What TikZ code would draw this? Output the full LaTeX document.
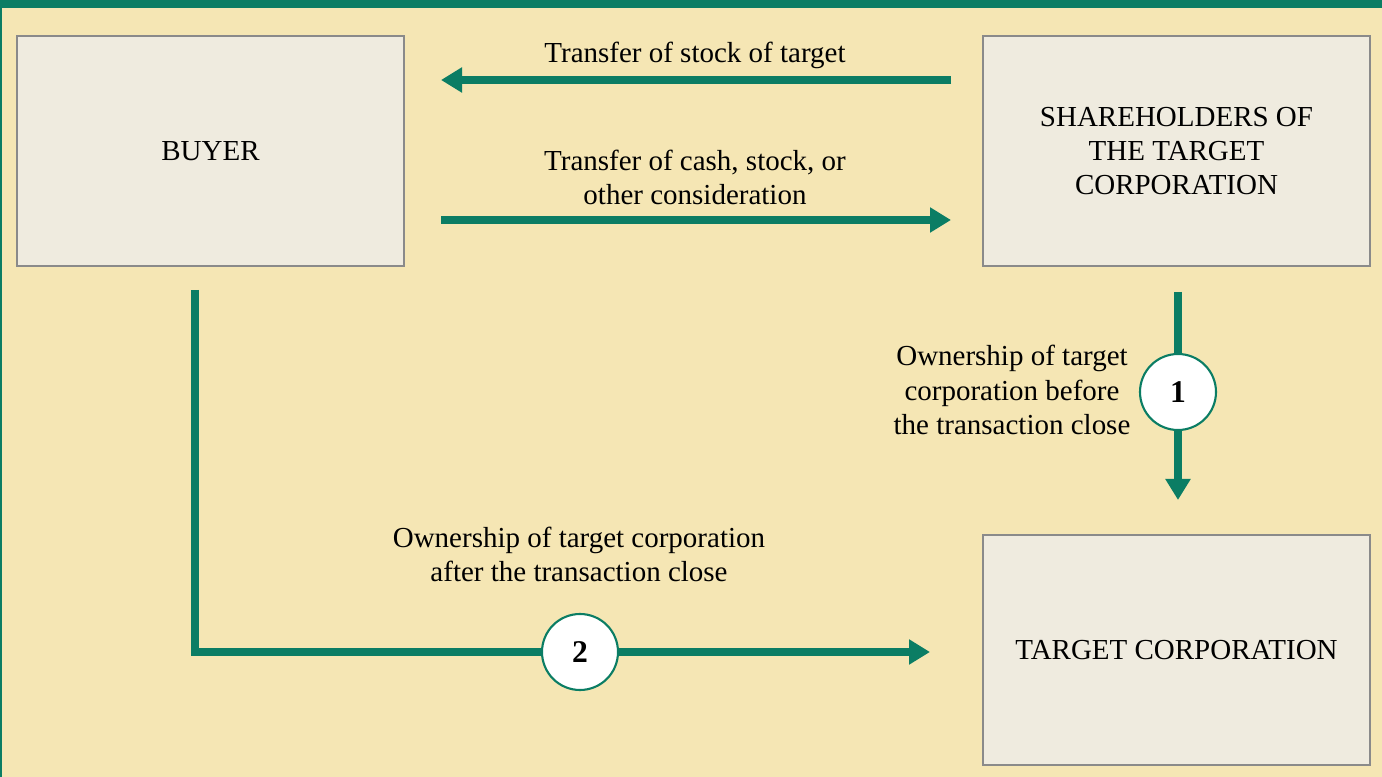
\documentclass[tikz,border=0pt]{standalone}
\usepackage{fontspec}
\setmainfont{Liberation Serif}
\usetikzlibrary{arrows.meta}
\definecolor{fondo}{HTML}{F5E6B4}
\definecolor{verde}{HTML}{0B7D64}
\definecolor{caja}{HTML}{EFEBDF}
\definecolor{borde}{HTML}{8A8A8A}

\begin{document}
\begin{tikzpicture}
%----------estilos---------
\tikzset{bloque/.style={
rectangle,
draw=borde,
line width=1pt,
fill=caja,
minimum width=7.74cm,
minimum height=4.6cm,
align=center,
font=\fontsize{16.5}{19.4}\selectfont},
flecha/.style={
draw=verde,
line width=4.5pt,
-{Triangle[length=4.2mm,width=4.8mm]}},
paso/.style={
circle,
draw=verde,
line width=1.2pt,
fill=white,
minimum size=1.52cm,
inner sep=0pt,
font=\fontsize{18}{20}\selectfont\bfseries},
texto/.style={
align=center,
font=\fontsize{16.5}{19.4}\selectfont}};

% -----------fondo----------------
\fill[fondo] (0,0) rectangle (27.64,-15.54);
\fill[verde] (0,0) rectangle (27.64,-0.16);
\fill[verde] (0,0) rectangle (0.04,-15.54);
\useasboundingbox (0,0) rectangle (27.64,-15.54);

%------------ cajas---------------
\node [bloque] (buyer) at (4.21,-3.02) {BUYER};
\node [bloque] (share) at (23.53,-3.02) {SHAREHOLDERS OF\\THE TARGET\\CORPORATION};
\node [bloque] (target) at (23.53,-13.0) {TARGET CORPORATION};

%------------ circulos---------------
\node [paso] (uno) at (23.56,-7.84) {1};
\node [paso] (dos) at (11.6,-13.04) {2};

%------------ extremos---------------
\coordinate (a1) at (19.02,-1.6);
\coordinate (a2) at (8.82,-1.6);
\coordinate (b1) at (8.82,-4.4);
\coordinate (b2) at (19.02,-4.4);
\coordinate (c1) at (23.56,-5.84);
\coordinate (c2) at (23.56,-10.0);
\coordinate (d1) at (3.9,-5.8);
\coordinate (d2) at (3.9,-13.04);
\coordinate (d3) at (18.6,-13.04);

%------------ flechas---------------
\draw [flecha] (a1)--(a2);
\draw [flecha] (b1)--(b2);
\draw [draw=verde,line width=4.5pt] (c1)--(uno);
\draw [flecha] (uno)--(c2);
\draw [draw=verde,line width=4.5pt,line join=miter] (d1)--(d2)--(dos);
\draw [flecha] (dos)--(d3);

% -----------textos----------------
\node [texto] (ta) at (13.9,-1.1) {Transfer of stock of target};
\node [texto] (tb) at (13.9,-3.54) {Transfer of cash, stock, or\\other consideration};
\node [texto] (tc) at (20.24,-7.8) {Ownership of target\\corporation before\\the transaction close};
\node [texto] (td) at (11.58,-11.08) {Ownership of target corporation\\after the transaction close};
\end{tikzpicture}
\end{document}
